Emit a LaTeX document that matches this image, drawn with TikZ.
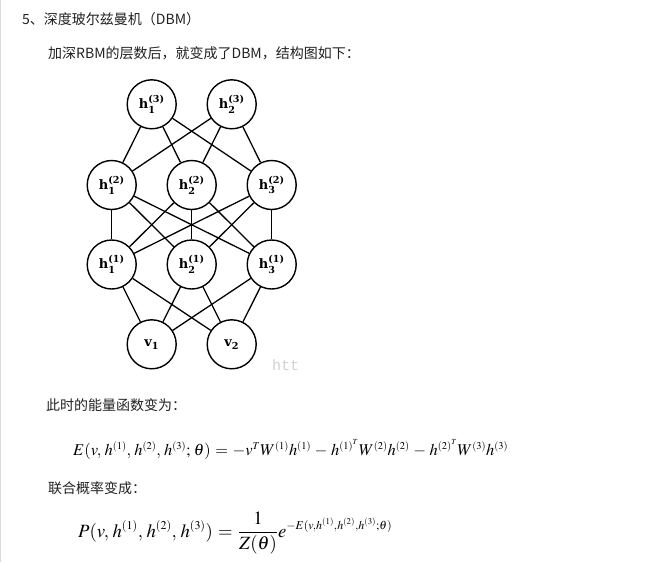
\documentclass[tikz,border=0pt]{standalone}
\usepackage{amsmath}
\usepackage{mathptmx}
\usepackage{fontspec}
\usepackage{graphicx}
\DeclareMathSizes{18}{18}{11.5}{8.5}
\newfontfamily\cjk{Noto Sans CJK SC}
\newfontfamily\wmfont{Liberation Mono}
\newfontfamily\labfont{DejaVu Serif}
\definecolor{txt}{HTML}{222222}
\tikzset{
  nd/.style={circle, draw=black, line width=1.4pt, minimum size=49pt, inner sep=0pt, fill=white, font=\labfont\bfseries\fontsize{13}{13}\selectfont},
  ed/.style={line width=1.3pt, black},
  cjktext/.style={anchor=west, inner sep=0pt, text=txt, font=\cjk\fontsize{14}{16}\selectfont},
  eqn/.style={anchor=base west, inner sep=0pt, text=black, font=\fontsize{18}{18}\selectfont}
}
\newcommand{\hlab}[2]{$\text{h}^{\text{(#2)}}_{\text{#1}}$}
\newcommand{\eqspacing}{\thinmuskip=3.5mu\medmuskip=4mu\thickmuskip=5mu}
\begin{document}
\begin{tikzpicture}[x=1pt,y=-1pt]
\useasboundingbox (0,0) rectangle (666,562);
\fill[white] (0,0) rectangle (666,562);
\draw[color=black!14, line width=1.2pt] (0.6,0) -- (0.6,562);
% texts
\node[cjktext] (t1) at (22,19) {5、深度玻尔兹曼机（DBM）};
\node[cjktext] (t2) at (48,53) {加深RBM的层数后，就变成了DBM，结构图如下：};
\node[cjktext] (t3) at (46,405) {此时的能量函数变为：};
\node[cjktext] (t4) at (48,488) {联合概率变成：};
% network nodes
\node[nd] (a1) at (151.7,104.3) {\hlab{1}{3}};
\node[nd] (a2) at (231.7,104.3) {\hlab{2}{3}};
\node[nd] (b1) at (111.7,185) {\hlab{1}{2}};
\node[nd] (b2) at (191.7,185) {\hlab{2}{2}};
\node[nd] (b3) at (271.7,185) {\hlab{3}{2}};
\node[nd] (c1) at (111.7,264.5) {\hlab{1}{1}};
\node[nd] (c2) at (191.7,264.5) {\hlab{2}{1}};
\node[nd] (c3) at (271.7,264.5) {\hlab{3}{1}};
\node[nd] (d1) at (151.7,344.3) {$\text{v}_{\text{1}}$};
\node[nd] (d2) at (231.7,344.3) {$\text{v}_{\text{2}}$};
% edges
\foreach \u in {a1,a2}{\foreach \w in {b1,b2,b3}{\draw[ed] (\u) -- (\w);}}
\foreach \u in {b1,b2,b3}{\foreach \w in {c1,c2,c3}{\draw[ed] (\u) -- (\w);}}
\foreach \u in {c1,c2,c3}{\foreach \w in {d1,d2}{\draw[ed] (\u) -- (\w);}}
% watermark
\node[anchor=west, inner sep=0pt, text=black!18, font=\wmfont\fontsize{15}{15}\selectfont] (wm) at (272,365) {htt};
% equations
\node[eqn] (e1) at (73,455) {\resizebox{435pt}{!}{\eqspacing$E(v,h^{(1)},h^{(2)},h^{(3)};\theta)=-v^{T}W^{(1)}h^{(1)}-h^{{(1)}^{T}}W^{(2)}h^{(2)}-h^{{(2)}^{T}}W^{(3)}h^{(3)}$}};
\node[eqn] (e2) at (78,537) {\resizebox{314pt}{!}{\eqspacing$\displaystyle P(v,h^{(1)},h^{(2)},h^{(3)})=\frac{1}{Z(\theta)}e^{-E(v,h^{(1)},h^{(2)},h^{(3)};\theta)}$}};
\end{tikzpicture}
\end{document}
